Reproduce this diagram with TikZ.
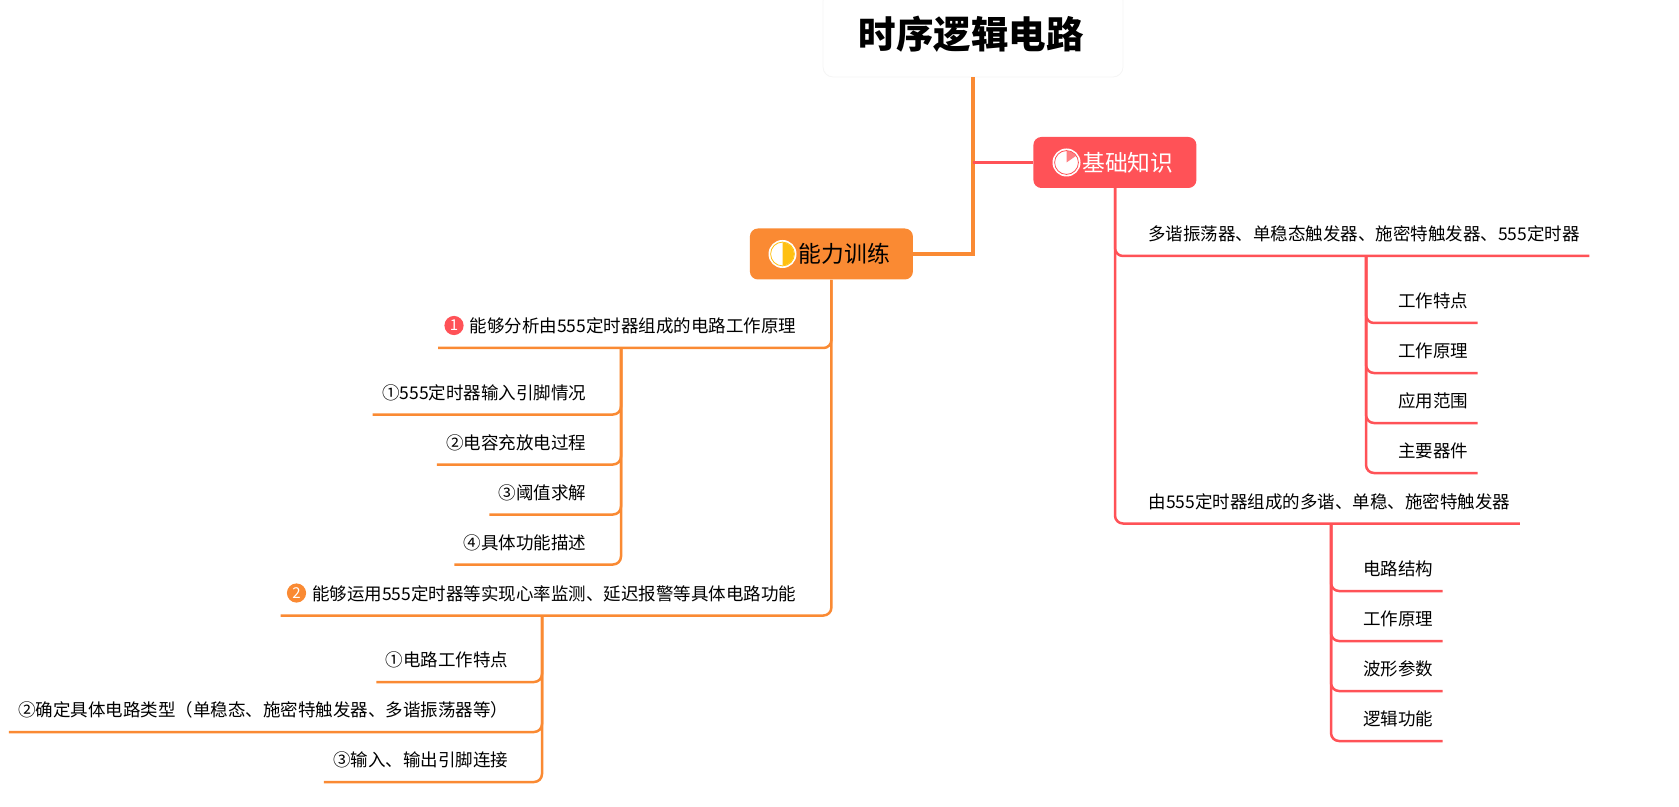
\documentclass[tikz,border=0pt]{standalone}
\usepackage{xcolor}
\usepackage{fontspec}
\usepackage{tikz}
\usetikzlibrary{positioning}
\setmainfont{Noto Sans CJK SC}
\definecolor{basered}{HTML}{FF5257}
\definecolor{skillorange}{HTML}{FA8A33}
\definecolor{halfyellow}{HTML}{FFC011}
\definecolor{wedgepink}{HTML}{FF7F83}

\begin{document}
\begin{tikzpicture}[
  x=0.5pt, y=-0.5pt,
  node distance=5pt,
  rootnode/.style={rectangle, rounded corners=5pt, draw=black!4, fill=white, minimum width=150pt, minimum height=43pt, inner sep=0pt, font=\fontsize{18.75}{22}\selectfont\bfseries},
  topicnode/.style={rectangle, rounded corners=4pt, minimum width=81.5pt, minimum height=25.5pt, inner sep=0pt, font=\fontsize{11.4}{13}\selectfont},
  leafnode/.style={rectangle, minimum height=20pt, inner ysep=0pt, inner xsep=4.8pt, outer sep=0pt, text height=4.5pt, text depth=0pt, font=\fontsize{8.75}{11}\selectfont},
  rightleaf/.style={leafnode, anchor=south west},
  leftleaf/.style={leafnode, anchor=south east},
  belowright/.style={leafnode, below=of #1.south west, anchor=north west},
  belowleft/.style={leafnode, below=of #1.south east, anchor=north east},
  badge/.style={circle, minimum size=9.6pt, inner sep=0pt, text=white, font=\fontsize{7.5}{8}\selectfont},
  mainred/.style={draw=basered, line width=1.85pt},
  mainorange/.style={draw=skillorange, line width=1.85pt},
  subred/.style={draw=basered, line width=1.25pt, rounded corners=4pt},
  suborange/.style={draw=skillorange, line width=1.25pt, rounded corners=4pt}
]
  \useasboundingbox (0,0) rectangle (1679,807);

  \node[rootnode] (root) at (973,34) {\hspace{-2pt}时序逻辑电路};
  \node[topicnode, fill=basered, text=white, anchor=west] (base) at (1033,162.5) {\hspace{13pt}基础知识};
  \node[topicnode, fill=skillorange, anchor=west] (skill) at (749.5,254) {\hspace{13pt}能力训练};

  % icons on the two topics
  \node[circle, draw=white, fill=white, line width=0.5pt, minimum size=13.5pt, inner sep=0pt] (baseicon) at (1066.5,162.5) {};
  \fill[wedgepink] (baseicon.center) -- ++(0,-11.5) arc[start angle=90, end angle=35, radius=5.75pt] -- cycle;
  \draw[basered, line width=0.4pt] (baseicon) circle[radius=5.95pt];
  \node[circle, draw=white, fill=white, line width=0.5pt, minimum size=13.5pt, inner sep=0pt] (skillicon) at (782.5,254) {};
  \fill[halfyellow] (skillicon.center) ++(0,-11.5) arc[start angle=90, end angle=-90, radius=5.75pt] -- cycle;
  \draw[halfyellow, line width=0.4pt] (skillicon) circle[radius=5.95pt];

  % right side
  \node[rightleaf] (multi) at (1138.5,256) {多谐振荡器、单稳态触发器、施密特触发器、555定时器};
  \node[rightleaf] (feature) at (1388.5,323) {工作特点};
  \node[belowright=feature] (principle) {工作原理};
  \node[belowright=principle] (range) {应用范围};
  \node[belowright=range] (device) {主要器件};
  \node[rightleaf] (timer) at (1139,523.5) {由555定时器组成的多谐、单稳、施密特触发器};
  \node[rightleaf] (circuit) at (1353.5,591) {电路结构};
  \node[belowright=circuit] (working) {工作原理};
  \node[belowright=working] (wave) {波形参数};
  \node[belowright=wave] (logic) {逻辑功能};

  % left side
  \node[leftleaf] (analyse) at (806,348) {\hspace{11pt}能够分析由555定时器组成的电路工作原理};
  \node[badge, fill=basered] (one) at (454,325.5) {1};
  \node[leftleaf] (pins) at (596,414.5) {①555定时器输入引脚情况};
  \node[belowleft=pins] (charge) {②电容充放电过程};
  \node[belowleft=charge] (limit) {③阈值求解};
  \node[belowleft=limit] (describe) {④具体功能描述};
  \node[leftleaf] (apply) at (806,615.5) {\hspace{11pt}能够运用555定时器等实现心率监测、延迟报警等具体电路功能};
  \node[badge, fill=skillorange] (two) at (296.5,593) {2};
  \node[leftleaf] (trait) at (518,682) {①电路工作特点};
  \node[belowleft=trait] (kind) {②确定具体电路类型（单稳态、施密特触发器、多谐振荡器等）};
  \node[belowleft=kind] (ports) {③输入、输出引脚连接};

  % branch points on the underlines
  \coordinate (basefork) at (1115,188);
  \coordinate (multifork) at (1366,256);
  \coordinate (timerfork) at (1331,523.5);
  \coordinate (analysefork) at (621,348);
  \coordinate (applyfork) at (542,615.5);

  % connectors
  \draw[mainorange] (root.south) |- (skill.east);
  \draw[mainred] (root.south |- base.west) -- (base.west);
  \draw[subred] (basefork) |- (multi.south east);
  \draw[subred] (basefork) |- (timer.south east);
  \foreach \leaf in {feature,principle,range,device}
    \draw[subred] (multifork) |- (\leaf.south east);
  \foreach \leaf in {circuit,working,wave,logic}
    \draw[subred] (timerfork) |- (\leaf.south east);
  \draw[suborange] (skill.south) |- (analyse.south west);
  \draw[suborange] (skill.south) |- (apply.south west);
  \foreach \leaf in {pins,charge,limit,describe}
    \draw[suborange] (analysefork) |- (\leaf.south west);
  \foreach \leaf in {trait,kind,ports}
    \draw[suborange] (applyfork) |- (\leaf.south west);
\end{tikzpicture}
\end{document}
